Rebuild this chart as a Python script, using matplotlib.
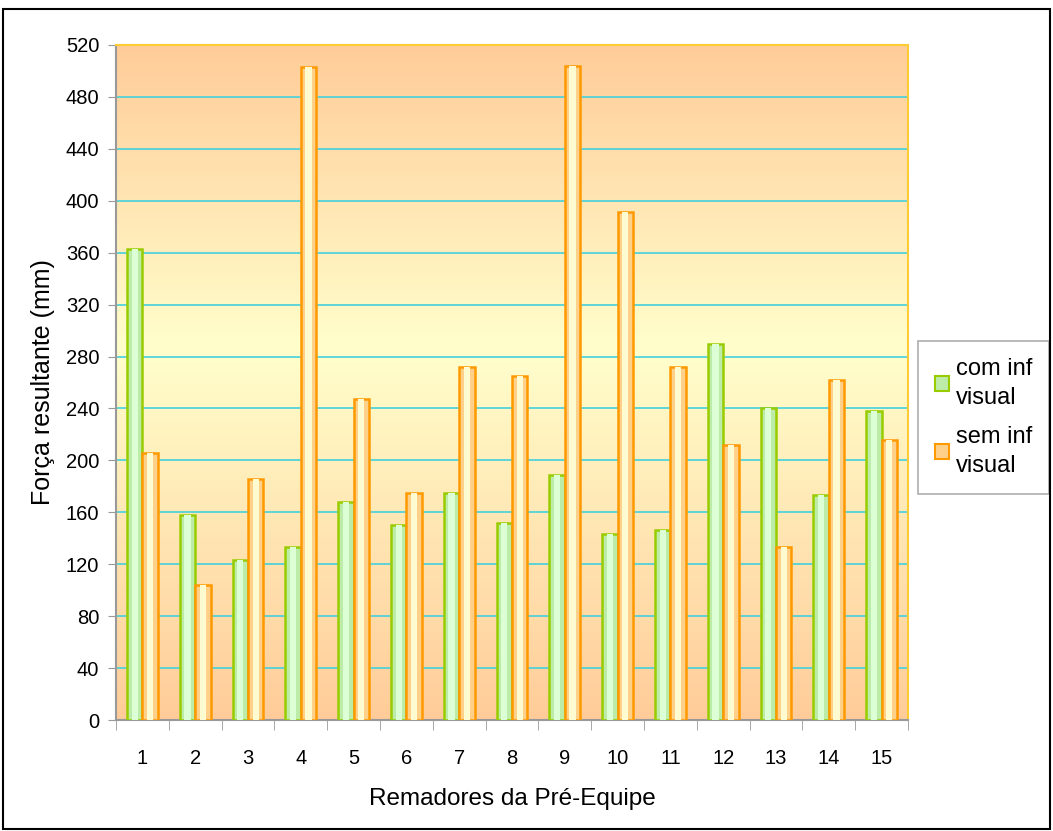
import numpy as np
import matplotlib
matplotlib.use("Agg")
import matplotlib.pyplot as plt
from matplotlib.colors import LinearSegmentedColormap
from matplotlib.patches import Rectangle, Patch

plt.rcParams['font.family'] = ['Liberation Sans', 'DejaVu Sans']

# data
remadores = [str(i) for i in range(1, 16)]
com_inf = [363, 158, 123, 133, 168, 150, 175, 152, 189, 143, 146, 290, 240, 173, 238]
sem_inf = [206, 104, 186, 503, 247, 175, 272, 265, 504, 391, 272, 212, 133, 262, 216]
yticks = list(range(0, 521, 40))

fig = plt.figure(figsize=(10.53, 8.31), dpi=100)
ax = fig.add_axes([116/1053, 1-720/831, (908-116)/1053, (720-45)/831])

# background gradient (peach -> light yellow -> peach)
cmap = LinearSegmentedColormap.from_list("bg", [(0, "#FFCC99"), (0.55, "#FFFFCC"), (1, "#FFCC99")])
grad = np.linspace(0, 1, 256).reshape(-1, 1)
ax.imshow(grad, aspect="auto", cmap=cmap, extent=[0.5, 15.5, 520, 0], zorder=0)

x = np.arange(1, 16)
w = 0.29
# green bars
ax.bar(x - w/2, com_inf, w, color="#BDEBA8", edgecolor="#99CC00", lw=1.8, zorder=3)
ax.bar(x - w/2, com_inf, w*0.4, color="#DDFFD5", lw=0, zorder=4)
# orange bars
ax.bar(x + w/2, sem_inf, w, color="#FFD08A", edgecolor="#FF9900", lw=1.8, zorder=3)
ax.bar(x + w/2, sem_inf, w*0.4, color="#FFFBD0", lw=0, zorder=4)

ax.set_xlim(0.5, 15.5)
ax.set_ylim(0, 520)
ax.set_yticks(yticks)
ax.set_yticklabels([str(v) for v in yticks], fontsize=14.5)
for v in yticks[1:-1]:
    ax.axhline(v, color="#44D0DD", lw=1.2, zorder=1)

ax.set_xticks(x)
ax.set_xticklabels(remadores, fontsize=14.5)
ax.set_xticks(np.arange(0.5, 16, 1), minor=True)
ax.tick_params(axis="x", which="major", length=0, pad=21)
ax.tick_params(axis="x", which="minor", length=7, color="#999999", direction="out")
ax.tick_params(axis="y", length=6, color="#999999", direction="out", pad=6)

ax.spines["left"].set_color("#999999")
ax.spines["bottom"].set_color("#999999")
ax.spines["top"].set_color("#FFCC33")
ax.spines["right"].set_color("#FFCC33")
for s in ax.spines.values():
    s.set_linewidth(1.5)

ax.set_ylabel("Força resultante (mm)", fontsize=18, labelpad=8)
ax.set_xlabel("Remadores da Pré-Equipe", fontsize=17.5, labelpad=14)

handles = [Patch(facecolor="#BDEBA8", edgecolor="#99CC00", lw=1.5),
           Patch(facecolor="#FFD08A", edgecolor="#FF9900", lw=1.5)]
leg = fig.legend(handles, ["com inf\nvisual", "sem inf\nvisual"],
                 loc="upper left", bbox_to_anchor=(918/1053, 1-341/831),
                 borderaxespad=0, fontsize=17, frameon=True, fancybox=False,
                 edgecolor="#999999", handlelength=0.6, handleheight=0.6,
                 handletextpad=0.3, labelspacing=0.7, borderpad=0.7)
leg.get_frame().set_linewidth(1.2)
for t in leg.get_texts():
    t.set_linespacing(1.45)

# outer frame
fig.add_artist(Rectangle((3/1053, 2/831), 1047/1053, 820/831, transform=fig.transFigure,
                         fill=False, edgecolor="black", lw=1.5, zorder=10))

fig.savefig("out.png", dpi=100)
